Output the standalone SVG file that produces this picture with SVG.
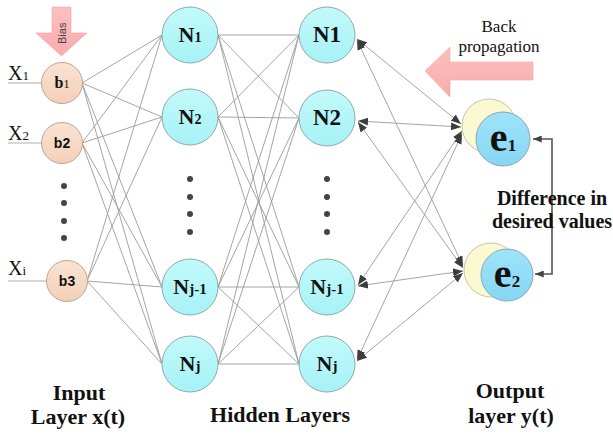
<svg xmlns="http://www.w3.org/2000/svg" width="613" height="435" viewBox="0 0 613 435">
<defs>
<style>
.ln{stroke:#9a9a9a;stroke-width:0.9;fill:none}
.ar{stroke:#9a9a9a;stroke-width:0.9;fill:none;marker-start:url(#ah);marker-end:url(#ah)}
.diff{stroke:#555;stroke-width:1.6;fill:none;marker-start:url(#ah2);marker-end:url(#ah2)}
.inl{stroke:#c8c8c8;stroke-width:1.5}
.bn{fill:url(#gb);stroke:#b9a898;stroke-width:1}
.hn{fill:url(#gh);stroke:#8ea9aa;stroke-width:1}
.yn{fill:#fbf9d2;stroke:#c9c6a0;stroke-width:1}
.en{fill:url(#ge);stroke:#88a9b5;stroke-width:1}
.dot{fill:#444}
.arrow{fill:url(#gp);stroke:#f2a5a5;stroke-width:0.6}
.ser{font-family:"Liberation Serif","Times New Roman",serif;fill:#111}
.sb{font-family:"Liberation Serif","Times New Roman",serif;font-weight:bold;fill:#111}
.sans{font-family:"Liberation Sans",Arial,sans-serif;font-weight:bold;fill:#111}
</style>
<linearGradient id="gh" x1="0" y1="0" x2="0" y2="1"><stop offset="0" stop-color="#c2fafb"/><stop offset="1" stop-color="#a6f2f6"/></linearGradient>
<linearGradient id="gb" x1="0" y1="0" x2="0" y2="1"><stop offset="0" stop-color="#fae3d2"/><stop offset="1" stop-color="#f3d0b8"/></linearGradient>
<linearGradient id="ge" x1="0" y1="0" x2="0" y2="1"><stop offset="0" stop-color="#9fe3fb"/><stop offset="1" stop-color="#86d7f3"/></linearGradient>
<linearGradient id="gp" x1="0" y1="0" x2="0" y2="1"><stop offset="0" stop-color="#fcc0c0"/><stop offset="1" stop-color="#f9abab"/></linearGradient>
<marker id="ah" viewBox="0 0 10 8" refX="10" refY="4" markerWidth="10" markerHeight="8" markerUnits="userSpaceOnUse" orient="auto-start-reverse"><path d="M0,0 L10,4 L0,8 z" fill="#3d3d3d"/></marker>
<marker id="ah2" viewBox="0 0 10 8" refX="10" refY="4" markerWidth="9" markerHeight="7" markerUnits="userSpaceOnUse" orient="auto-start-reverse"><path d="M0,0 L10,4 L0,8 z" fill="#444"/></marker>
</defs>
<rect width="613" height="435" fill="#fff"/>

<g id="connectors">
<path class="ln" d="M82,83 L162,35 M82,83 L162,117 M82,83 L162,287 M82,83 L162,364"/>
<path class="ln" d="M82,143 L162,35 M82,143 L162,117 M82,143 L162,287 M82,143 L162,364"/>
<path class="ln" d="M87,281 L162,35 M87,281 L162,117 M87,281 L162,287 M87,281 L162,364"/>
<path class="ln" d="M218,35 L299,35 M218,35 L299,118 M218,35 L299,287 M218,35 L299,364"/>
<path class="ln" d="M218,117 L299,35 M218,117 L299,118 M218,117 L299,287 M218,117 L299,364"/>
<path class="ln" d="M218,287 L299,35 M218,287 L299,118 M218,287 L299,287 M218,287 L299,364"/>
<path class="ln" d="M218,364 L299,35 M218,364 L299,118 M218,364 L299,287 M218,364 L299,364"/>
<line class="ar" x1="357" y1="39" x2="461" y2="124"/>
<line class="ar" x1="357" y1="40" x2="463" y2="266"/>
<line class="ar" x1="358" y1="121" x2="461" y2="127"/>
<line class="ar" x1="358" y1="122" x2="463" y2="268"/>
<line class="ar" x1="358" y1="285" x2="462" y2="131"/>
<line class="ar" x1="358" y1="286" x2="463" y2="271"/>
<line class="ar" x1="357" y1="360" x2="462" y2="134"/>
<line class="ar" x1="357" y1="361" x2="463" y2="273"/>
<line class="inl" x1="8" y1="83" x2="42" y2="83"/>
<line class="inl" x1="8" y1="143" x2="42" y2="143"/>
<line class="inl" x1="8" y1="281" x2="47" y2="281"/>
<path class="diff" d="M533,139 H552 V274 H535"/>
</g>

<g id="bias-arrow">
<polygon class="arrow" points="52,7 71,7 71,33 87,33 61.5,56 36,33 52,33"/>
<text transform="translate(66,44) rotate(-90)" font-family="'Liberation Sans',Arial,sans-serif" font-size="11" fill="#444">Bias</text>
</g>

<g id="backprop-arrow">
<polygon class="arrow" points="425,71 450,47 450,62 533,62 533,80 450,80 450,97"/>
<text class="ser" x="499" y="32" font-size="17" text-anchor="middle">Back</text>
<text class="ser" x="499" y="52" font-size="17" text-anchor="middle">propagation</text>
</g>

<g id="input-labels">
<text class="ser" x="8" y="80" font-size="20">X<tspan font-size="13">1</tspan></text>
<text class="ser" x="8" y="140" font-size="20">X<tspan font-size="13">2</tspan></text>
<text class="ser" x="8" y="275" font-size="20">X<tspan font-size="13">i</tspan></text>
</g>

<g id="b1"><circle class="bn" cx="62" cy="83" r="20.5"/><text class="sb" x="62" y="88" font-size="16" text-anchor="middle">b<tspan font-size="12" font-weight="normal">1</tspan></text></g>
<g id="b2"><circle class="bn" cx="62" cy="143" r="20.5"/><text class="sans" x="62" y="148" font-size="14" text-anchor="middle">b2</text></g>
<g id="b3"><circle class="bn" cx="67" cy="281" r="20.5"/><text class="sans" x="67" y="286" font-size="14" text-anchor="middle">b3</text></g>

<g id="input-dots">
<circle class="dot" cx="64" cy="186" r="3"/><circle class="dot" cx="64" cy="203" r="3"/><circle class="dot" cx="64" cy="221" r="3"/><circle class="dot" cx="64" cy="238" r="3"/>
</g>

<g id="h1-N1"><circle class="hn" cx="190" cy="35" r="28"/><text class="sb" x="190" y="42" font-size="22" text-anchor="middle">N<tspan font-size="14">1</tspan></text></g>
<g id="h1-N2"><circle class="hn" cx="190" cy="117" r="28"/><text class="sb" x="190" y="124" font-size="22" text-anchor="middle">N<tspan font-size="14">2</tspan></text></g>
<g id="h1-dots"><circle class="dot" cx="190" cy="179" r="3"/><circle class="dot" cx="190" cy="197" r="3"/><circle class="dot" cx="190" cy="214" r="3"/><circle class="dot" cx="190" cy="232" r="3"/></g>
<g id="h1-Nj-1"><circle class="hn" cx="190" cy="287" r="28"/><text class="sb" x="190" y="294" font-size="22" text-anchor="middle">N<tspan font-size="15">j-1</tspan></text></g>
<g id="h1-Nj"><circle class="hn" cx="190" cy="364" r="28"/><text class="sb" x="190" y="371" font-size="22" text-anchor="middle">N<tspan font-size="15">j</tspan></text></g>

<g id="h2-N1"><circle class="hn" cx="327" cy="35" r="28"/><text class="sb" x="327" y="42" font-size="23" text-anchor="middle">N1</text></g>
<g id="h2-N2"><circle class="hn" cx="327" cy="118" r="28"/><text class="sb" x="327" y="125" font-size="23" text-anchor="middle">N2</text></g>
<g id="h2-dots"><circle class="dot" cx="327" cy="179" r="3"/><circle class="dot" cx="327" cy="197" r="3"/><circle class="dot" cx="327" cy="214" r="3"/><circle class="dot" cx="327" cy="232" r="3"/></g>
<g id="h2-Nj-1"><circle class="hn" cx="327" cy="287" r="28"/><text class="sb" x="327" y="294" font-size="22" text-anchor="middle">N<tspan font-size="15">j-1</tspan></text></g>
<g id="h2-Nj"><circle class="hn" cx="327" cy="364" r="28"/><text class="sb" x="327" y="371" font-size="22" text-anchor="middle">N<tspan font-size="15">j</tspan></text></g>

<g id="e1"><circle class="yn" cx="489" cy="126" r="27"/><circle class="en" cx="503" cy="139" r="27"/><text class="sb" x="503" y="151" font-size="40" text-anchor="middle">e<tspan font-size="17">1</tspan></text></g>
<g id="e2"><circle class="yn" cx="491" cy="270" r="27"/><circle class="en" cx="507" cy="275" r="26"/><text class="sb" x="507" y="287" font-size="40" text-anchor="middle">e<tspan font-size="17">2</tspan></text></g>

<g id="labels">
<text class="sb" x="552" y="205" font-size="20" text-anchor="middle">Difference in</text>
<text class="sb" x="552" y="228" font-size="20" text-anchor="middle">desired values</text>
<text class="sb" x="79" y="400" font-size="22" text-anchor="middle">Input</text>
<text class="sb" x="78" y="424" font-size="22" text-anchor="middle">Layer x(t)</text>
<text class="sb" x="280" y="422" font-size="22" text-anchor="middle">Hidden Layers</text>
<text class="sb" x="510" y="398" font-size="22" text-anchor="middle">Output</text>
<text class="sb" x="511" y="423" font-size="22" text-anchor="middle">layer y(t)</text>
</g>
</svg>
